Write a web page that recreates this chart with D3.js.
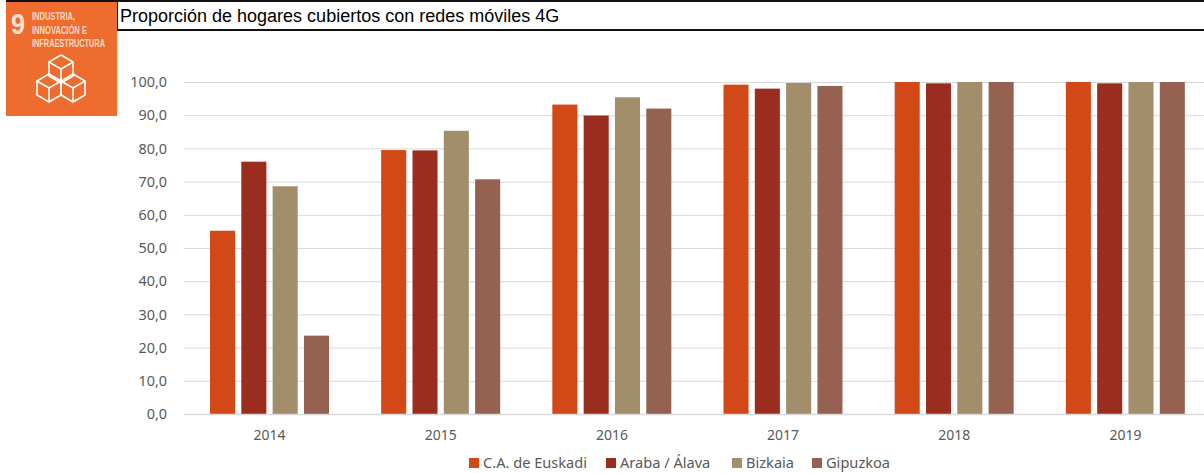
<!DOCTYPE html>
<html>
<head>
<meta charset="utf-8">
<script src="https://cdn.jsdelivr.net/npm/d3@7"></script>
<style>
  html, body { margin: 0; padding: 0; background: #fff; overflow: hidden; }
  text { font-family: "Noto Sans", sans-serif; }
</style>
</head>
<body>
<div id="chart"></div>
<script>
const years = ["2014", "2015", "2016", "2017", "2018", "2019"]
const seriesNames = ["C.A. de Euskadi", "Araba / Álava", "Bizkaia", "Gipuzkoa"]
const euskadi = [55.2, 79.5, 93.2, 99.2, 100, 100]
const araba = [76.0, 79.4, 89.9, 98.0, 99.6, 99.6]
const bizkaia = [68.6, 85.3, 95.4, 99.7, 100, 100]
const gipuzkoa = [23.6, 70.7, 92.0, 98.8, 100, 100]
const yTicks = [0, 10, 20, 30, 40, 50, 60, 70, 80, 90, 100]
const colors = ["#d34817", "#9b2d1f", "#a28e6a", "#956251"]
const title = "Proporción de hogares cubiertos con redes móviles 4G"
const iconLines = ["INDUSTRIA,", "INNOVACIÓN E", "INFRAESTRUCTURA"]

const values = [euskadi, araba, bizkaia, gipuzkoa]
const width = 1204
const height = 473

const svg = d3.select("#chart").append("svg")
  .attr("width", width)
  .attr("height", height)
  .style("display", "block")

// plot area runs a little past the right edge of the picture, like the original crop
const x = d3.scaleBand().domain(years).range([184, 1211]).padding(0)
const x1 = d3.scaleBand().domain(d3.range(4)).range([26, 145]).paddingInner(0.2).paddingOuter(0)
const y = d3.scaleLinear().domain([0, 100]).range([414, 82])

// gridlines
svg.append("g")
  .selectAll("line")
  .data(yTicks)
  .join("line")
  .attr("x1", 184)
  .attr("x2", width)
  .attr("y1", d => y(d) + 0.5)
  .attr("y2", d => y(d) + 0.5)
  .attr("stroke", "#d9d9d9")

// y axis labels
const yAxis = svg.append("g")
  .attr("transform", "translate(167,0)")
  .call(d3.axisLeft(y).tickValues(yTicks).tickSize(0).tickPadding(0)
    .tickFormat(d => d3.format(".1f")(d).replace(".", ",")))
yAxis.select(".domain").remove()
yAxis.selectAll("text")
  .attr("font-size", 14.4)
  .attr("font-family", "'Noto Sans', sans-serif")
  .attr("fill", "#595959")

// bars
svg.append("g")
  .selectAll("g")
  .data(values)
  .join("g")
  .attr("fill", (d, i) => colors[i])
  .each(function(series, i) {
    d3.select(this).selectAll("rect")
      .data(series)
      .join("rect")
      .attr("x", (d, j) => x(years[j]) + x1(i))
      .attr("y", d => y(d))
      .attr("width", x1.bandwidth())
      .attr("height", d => y(0) - y(d))
  })

// x axis
const xAxis = svg.append("g")
  .attr("transform", "translate(0,414)")
  .call(d3.axisBottom(x).tickSize(0).tickPadding(16))
xAxis.select(".domain").attr("stroke", "#d9d9d9").attr("stroke-width", 1.5)
xAxis.selectAll("text")
  .attr("font-size", 14)
  .attr("font-family", "'Noto Sans', sans-serif")
  .attr("fill", "#595959")

// legend
const legendX = [469, 606, 732, 812]
const legend = svg.append("g")
seriesNames.forEach((name, i) => {
  legend.append("rect")
    .attr("x", legendX[i])
    .attr("y", 458)
    .attr("width", 10)
    .attr("height", 10)
    .attr("fill", colors[i])
  legend.append("text")
    .attr("x", legendX[i] + 14)
    .attr("y", 468)
    .attr("font-size", 14.6)
    .attr("fill", "#595959")
    .text(name)
})

// title box
svg.append("rect").attr("x", 6).attr("y", 0).attr("width", width).attr("height", 2).attr("fill", "#111")
svg.append("rect").attr("x", 117).attr("y", 29).attr("width", width).attr("height", 2).attr("fill", "#111")
svg.append("rect").attr("x", 117).attr("y", 0).attr("width", 1).attr("height", 31).attr("fill", "#111")
svg.append("text")
  .attr("x", 120)
  .attr("y", 22)
  .attr("font-size", 18)
  .style("font-family", "'Liberation Sans', Arial, sans-serif")
  .attr("fill", "#000")
  .text(title)

// SDG 9 icon
const icon = svg.append("g")
icon.append("rect")
  .attr("x", 6).attr("y", 2).attr("width", 111).attr("height", 114)
  .attr("fill", "#ee6c2e")
icon.append("text")
  .attr("x", 11).attr("y", 34)
  .attr("font-size", 30).attr("font-weight", "bold")
  .style("font-family", "'Liberation Sans', Arial, sans-serif")
  .attr("fill", "#fbe3d4")
  .attr("textLength", 14).attr("lengthAdjust", "spacingAndGlyphs")
  .text("9")
icon.selectAll(".lab")
  .data(iconLines)
  .join("text")
  .attr("class", "lab")
  .attr("x", 32)
  .attr("y", (d, i) => 20 + i * 13.5)
  .attr("font-size", 10.5)
  .attr("font-weight", "bold")
  .style("font-family", "'Liberation Sans', Arial, sans-serif")
  .attr("fill", "#fbd9c4")
  .attr("textLength", (d, i) => [43, 55, 73][i])
  .attr("lengthAdjust", "spacingAndGlyphs")
  .text(d => d)

// three stacked cubes
const cube = (cx, cy, w, h) => [
  [[cx, cy - h], [cx + w, cy - h / 2], [cx, cy], [cx - w, cy - h / 2], [cx, cy - h]],
  [[cx - w, cy - h / 2], [cx - w, cy + h / 2], [cx, cy + h], [cx + w, cy + h / 2], [cx + w, cy - h / 2]],
  [[cx, cy], [cx, cy + h]]
]
const line = d3.line()
const cubes = [[61, 69, 12, 14], [49, 88, 12, 14], [73, 88, 12, 14]]
cubes.forEach(c => {
  cube(c[0], c[1], c[2], c[3]).forEach(p => {
    icon.append("path")
      .attr("d", line(p))
      .attr("fill", "none")
      .attr("stroke", "#fff")
      .attr("stroke-width", 1.6)
      .attr("stroke-linejoin", "round")
  })
})
</script>
</body>
</html>
